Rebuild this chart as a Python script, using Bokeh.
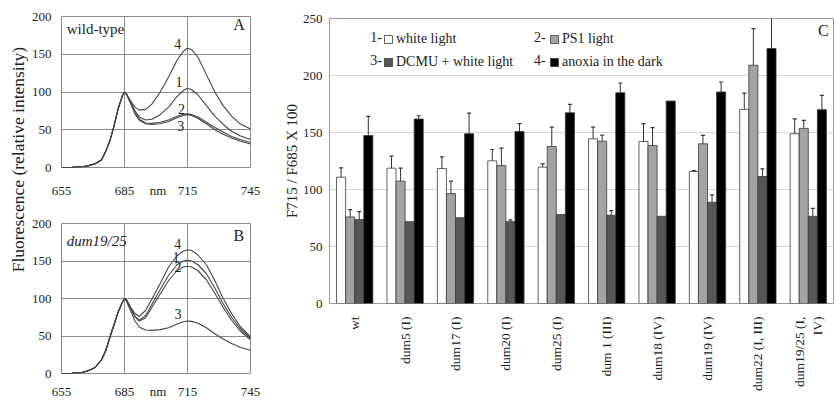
import math
from bokeh.plotting import figure
from bokeh.models import (Range1d, FactorRange, FixedTicker, Label, Legend,
                          LegendItem, ColumnDataSource)
from bokeh.layouts import row, column
from bokeh.transform import dodge
from bokeh.embed import file_html
from bokeh.resources import INLINE

FONT = "Liberation Serif"

# ---------------- Panels A and B: emission spectra ----------------
wavelength = [655, 660, 665, 668, 671, 674, 676, 678, 680, 682, 684, 685, 686, 688, 690, 692,
              695, 698, 702, 706, 710, 713, 715, 717, 720, 724, 728, 732, 736, 740, 745]

wt_1 = [0, 0.3, 1, 2.5, 5, 10, 21, 35, 55, 78, 95, 100, 97, 86, 75, 67,
        63, 64, 70, 80, 94, 102, 105, 103, 96, 82, 68, 57, 48, 42, 37]
wt_2 = [0, 0.3, 1, 2.5, 5, 10, 21, 35, 55, 78, 95, 100, 97, 85, 72, 64,
        59, 58.5, 60, 63, 68, 70.5, 71, 70, 67, 60, 53, 47, 41, 37, 33]
wt_3 = [0, 0.3, 1, 2.5, 5, 10, 21, 35, 55, 78, 95, 100, 97, 84, 71, 63,
        58, 57, 58, 61, 66, 69, 70, 69, 65, 58, 50, 44, 39, 35, 31]
wt_4 = [0, 0.3, 1, 2.5, 5, 10, 21, 35, 55, 78, 95, 100, 97, 88, 80, 76,
        77, 84, 100, 120, 142, 154, 158, 156, 146, 123, 100, 82, 68, 58, 51]

dm_1 = [0, 0.3, 1.5, 4, 8, 18, 30, 48, 65, 82, 95, 100, 98, 87, 76, 71,
        77, 92, 112, 131, 145, 150, 151, 150, 145, 133, 114, 93, 75, 60, 47]
dm_2 = [0, 0.3, 1.5, 4, 8, 18, 30, 48, 65, 82, 95, 100, 98, 87, 76, 70,
        74, 88, 106, 124, 137, 142, 143, 142, 137, 125, 107, 88, 71, 57, 45]
dm_3 = [0, 0.3, 1.5, 4, 8, 18, 30, 48, 65, 82, 95, 100, 96, 83, 70, 62,
        58, 57.5, 58.5, 61, 66, 69, 70, 69.5, 67, 61, 53, 46, 40, 35, 31]
dm_4 = [0, 0.3, 1.5, 4, 8, 18, 30, 48, 65, 82, 95, 100, 98, 88, 80, 76,
        84, 99, 120, 142, 157, 163, 165, 164, 158, 145, 124, 100, 80, 63, 49]

x_ticks = [655, 685, 715, 745]
y_ticks = [0, 50, 100, 150, 200]

# ---------------- Panel C: F715/F685 ratios ----------------
strains = ["wt", "dum5 (I)", "dum17 (I)", "dum20 (I)", "dum25 (I)", "dum 1 (III)",
           "dum18 (IV)", "dum19 (IV)", "dum22 (I, III)", "dum19/25 (I,\nIV)"]
white_light = [110.8, 118.7, 118.4, 125.1, 119.6, 144.5, 142.1, 115.8, 170.3, 148.9]
white_err = [8.2, 10.5, 10.3, 10.0, 2.9, 10.2, 15.6, 0.8, 14.3, 13.1]
ps1_light = [75.9, 107.3, 96.4, 121.0, 137.7, 142.4, 138.6, 140.1, 209.0, 153.6]
ps1_err = [6.5, 11.4, 10.9, 15.3, 17.0, 5.3, 15.6, 7.3, 32.2, 7.0]
dcmu_white = [73.6, 71.8, 75.3, 71.8, 78.0, 77.4, 76.5, 88.8, 111.4, 76.5]
dcmu_err = [7.0, 0, 0, 1.5, 0, 4.1, 0, 6.5, 6.7, 7.0]
anoxia_dark = [147.4, 161.8, 148.9, 150.9, 167.3, 184.9, 177.6, 185.5, 223.6, 170.0]
anoxia_err = [16.7, 2.9, 18.1, 6.8, 7.4, 8.5, 0, 8.8, 27.4, 12.6]
c_ticks = [0, 50, 100, 150, 200, 250]


def style_axes(p):
    for ax in (p.xaxis, p.yaxis):
        ax.axis_line_color = None
        ax.major_tick_line_color = None
        ax.minor_tick_line_color = None
        ax.major_tick_out = 0
        ax.major_tick_in = 0
        ax.minor_tick_out = 0
        ax.minor_tick_in = 0
        ax.major_label_text_font = FONT
        ax.major_label_text_font_size = "13px"
        ax.major_label_text_color = "#222222"


def spectrum_panel(height, top, bottom, xstand, curves, curve_labels, name, name_style,
                   letter, name_y, letter_y):
    p = figure(width=252, height=height, x_range=Range1d(655, 745), y_range=Range1d(0, 200),
               output_backend="svg", toolbar_location=None,
               min_border_left=32, min_border_right=30, min_border_top=top,
               min_border_bottom=bottom)
    p.outline_line_color = "#8c8c8c"
    style_axes(p)
    p.xaxis.ticker = FixedTicker(ticks=x_ticks + [701])
    p.xaxis.major_label_overrides = {701: "nm"}
    p.xaxis.major_label_standoff = xstand
    p.yaxis.ticker = FixedTicker(ticks=y_ticks)
    p.yaxis.major_label_standoff = 10
    p.xgrid.ticker = FixedTicker(ticks=[685, 715])
    p.ygrid.ticker = FixedTicker(ticks=[50, 100, 150])
    for g in (p.xgrid, p.ygrid):
        g.grid_line_color = "#8c8c8c"
        g.grid_line_width = 1
    for ys in curves:
        p.line(wavelength, ys, line_color="#454545", line_width=1.1)
    for txt, lx, ly in curve_labels:
        p.add_layout(Label(x=lx, y=ly, text=txt, text_font=FONT, text_font_size="14px",
                           text_align="center", text_baseline="middle", text_color="#222222"))
    p.add_layout(Label(x=657.5, y=name_y, text=name, text_font=FONT, text_font_size="15px",
                       text_font_style=name_style, text_baseline="middle", text_color="#222222"))
    p.add_layout(Label(x=739.5, y=letter_y, text=letter, text_font=FONT, text_font_size="16px",
                       text_align="center", text_baseline="middle", text_color="#222222"))
    return p


pA = spectrum_panel(200, 16, 32, 15, [wt_1, wt_2, wt_3, wt_4],
                    [("4", 710.3, 164), ("1", 711, 113), ("2", 712.2, 78), ("3", 711.8, 55)],
                    "wild-type", "normal", "A", 184, 190)
pB = spectrum_panel(201, 23, 27, 10, [dm_1, dm_2, dm_3, dm_4],
                    [("4", 710.3, 173), ("1", 709.5, 155), ("2", 710.5, 142), ("3", 710.5, 79)],
                    "dum19/25", "italic", "B", 177, 184)

# y-axis title shared by A and B
pL = figure(width=28, height=401, x_range=Range1d(0, 1), y_range=Range1d(0, 1),
            x_axis_type=None, y_axis_type=None, output_backend="svg", toolbar_location=None,
            min_border_left=0, min_border_right=0, min_border_top=0, min_border_bottom=0)
pL.outline_line_color = None
pL.add_layout(Label(x=0.64, y=0.505, text="Fluorescence (relative intensity)", angle=math.pi / 2,
                    text_align="center", text_baseline="middle", text_font=FONT,
                    text_font_size="17.5px", text_color="#222222"))

# ---------------- Panel C ----------------
pC = figure(width=559, height=401, x_range=FactorRange(*strains), y_range=Range1d(0, 250),
            output_backend="svg", toolbar_location=None,
            min_border_left=42, min_border_right=6, min_border_top=18, min_border_bottom=98)
pC.outline_line_color = "#9a9a9a"
style_axes(pC)
pC.yaxis.ticker = FixedTicker(ticks=c_ticks)
pC.yaxis.major_label_standoff = 7
pC.yaxis.axis_label = "F715 / F685 X 100"
pC.yaxis.axis_label_text_font = FONT
pC.yaxis.axis_label_text_font_style = "normal"
pC.yaxis.axis_label_text_font_size = "15px"
pC.yaxis.axis_label_standoff = 0
pC.yaxis.axis_label_text_color = "#222222"
pC.xaxis.major_label_orientation = math.pi / 2
pC.xaxis.major_label_standoff = 13
pC.xaxis.major_label_text_font_size = "13.5px"
pC.xgrid.grid_line_color = None
pC.ygrid.grid_line_color = "#d6d6d6"

series = [("white light", white_light, white_err, "#ffffff", -0.27),
          ("PS1 light", ps1_light, ps1_err, "#a3a3a3", -0.09),
          ("DCMU + white light", dcmu_white, dcmu_err, "#575757", 0.09),
          ("anoxia in the dark", anoxia_dark, anoxia_err, "#000000", 0.27)]

bar_r = {}
for name, vals, errs, color, off in series:
    src = ColumnDataSource(dict(
        cat=strains, val=vals,
        top=[v + e if e > 0 else float("nan") for v, e in zip(vals, errs)],
        bot=[v if e > 0 else float("nan") for v, e in zip(vals, errs)]))
    r = pC.vbar(x=dodge("cat", off, range=pC.x_range), top="val", width=0.18, source=src,
                fill_color=color, line_color="#3a3a3a", line_width=0.8)
    pC.segment(x0=dodge("cat", off, range=pC.x_range), y0="bot",
               x1=dodge("cat", off, range=pC.x_range), y1="top", source=src,
               line_color="#333333", line_width=1)
    pC.scatter(x=dodge("cat", off, range=pC.x_range), y="top", marker="dash", size=4,
               line_color="#333333", line_width=1.2, source=src)
    bar_r[name] = r

legend_pos = {"white light": (54, 256), "PS1 light": (220, 256),
              "DCMU + white light": (54, 233), "anoxia in the dark": (220, 233)}
for name, pos in legend_pos.items():
    lg = Legend(items=[LegendItem(label=name, renderers=[bar_r[name]])], location=pos,
                background_fill_alpha=0, border_line_alpha=0, padding=0, margin=0,
                spacing=0, glyph_width=10, glyph_height=10, label_standoff=3,
                label_text_font=FONT, label_text_font_size="14px",
                label_text_color="#222222")
    pC.add_layout(lg)

for txt, lx, ly in [("1-", 1.04, 233.8), ("3-", 1.04, 213.2),
                    ("2-", 4.29, 233.8), ("4-", 4.29, 213.2)]:
    pC.add_layout(Label(x=lx, y=ly, text=txt, text_align="right", text_baseline="middle",
                        text_font=FONT, text_font_size="14px", text_color="#222222"))
pC.add_layout(Label(x=9.8, y=239.5, text="C", text_align="center", text_baseline="middle",
                    text_font=FONT, text_font_size="16px", text_color="#222222"))

layout = row(pL, column(pA, pB), pC)
open("out.html", "w").write(file_html(layout, INLINE))
